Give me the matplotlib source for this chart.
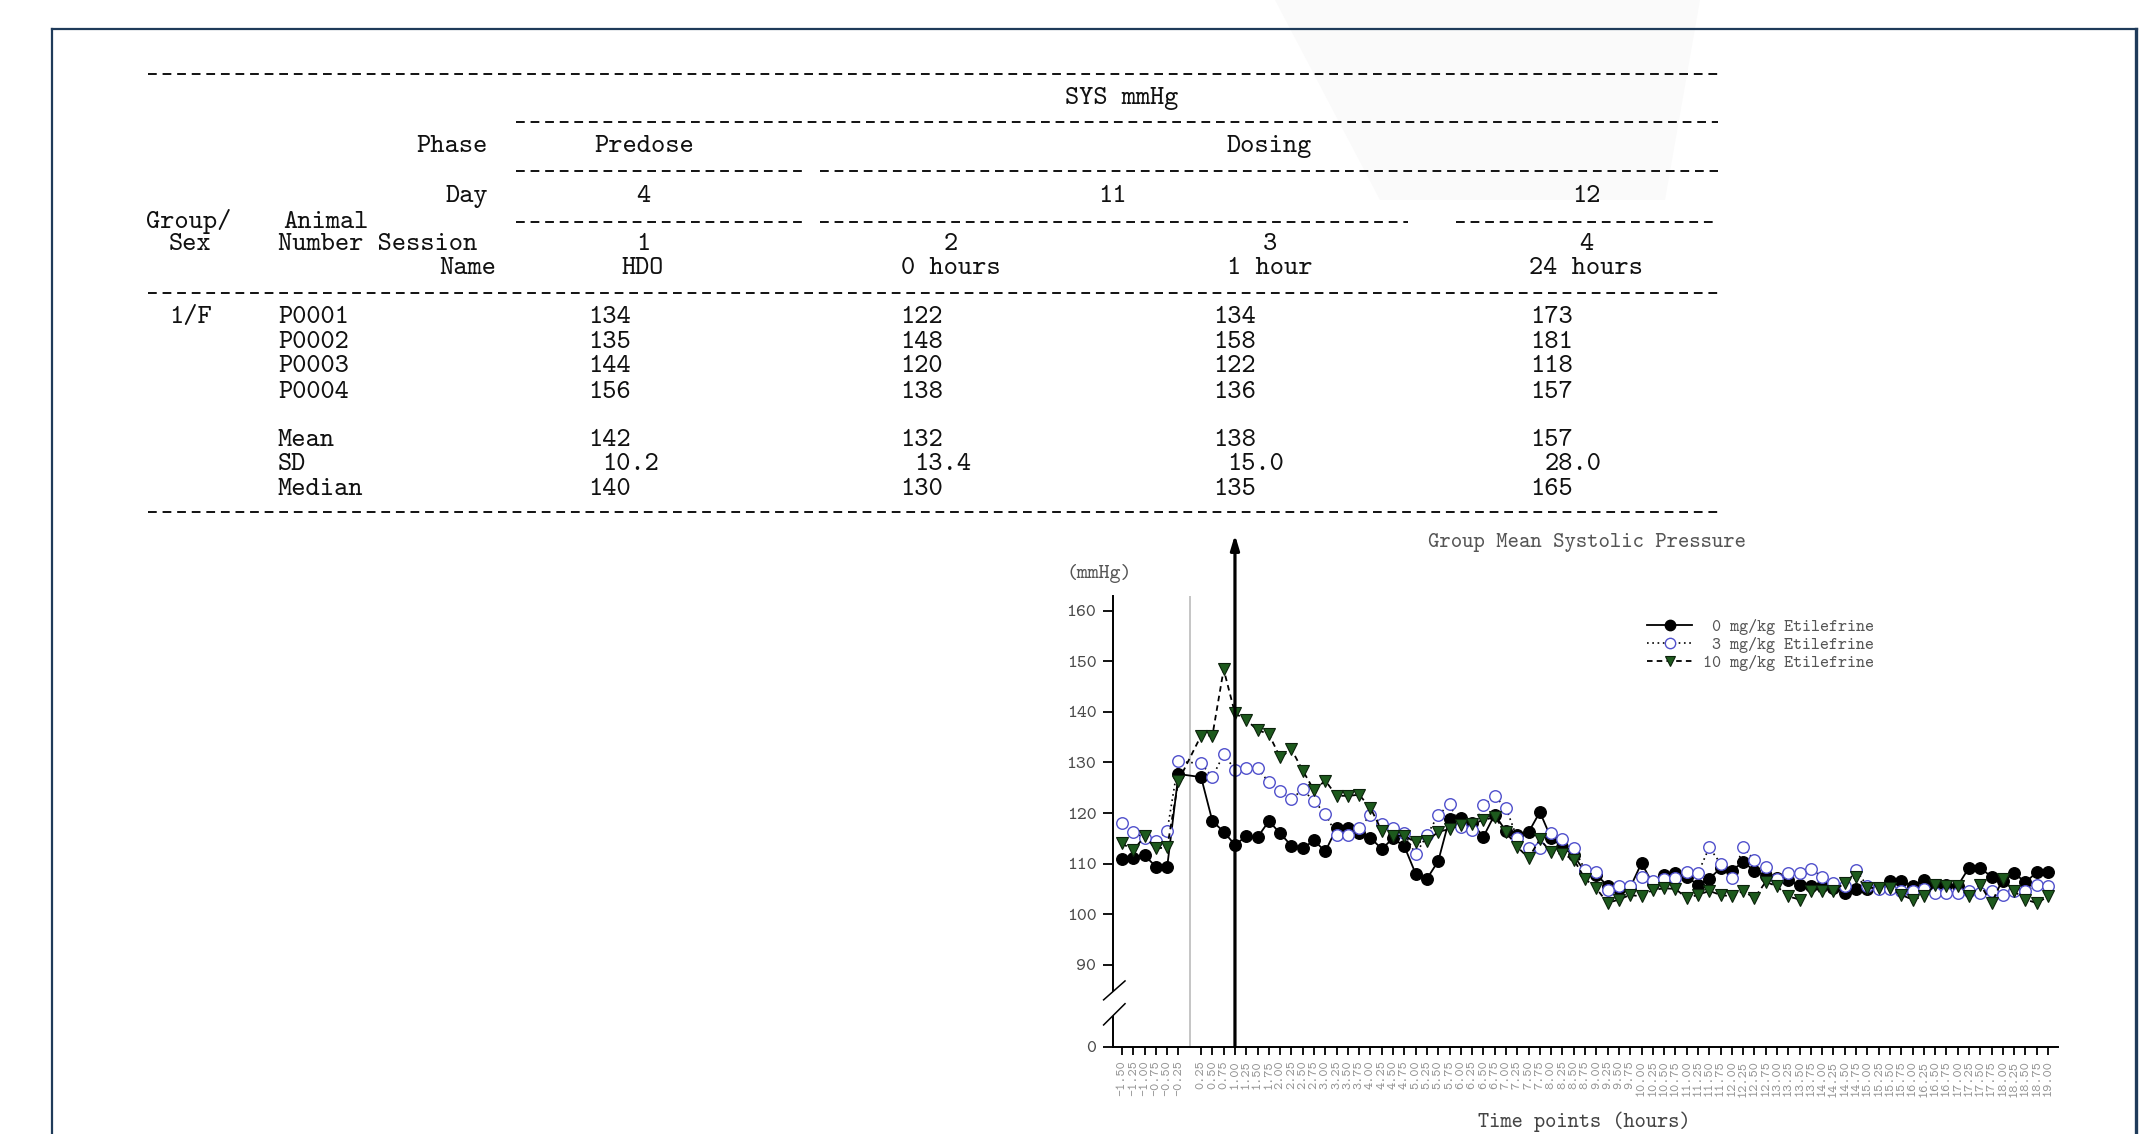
import matplotlib
matplotlib.use("Agg")
import matplotlib.pyplot as plt
from matplotlib.lines import Line2D
from matplotlib.patches import Polygon
from matplotlib.font_manager import FontProperties

plt.rcParams['lines.scale_dashes'] = False

W, H = 2144, 1134
DPI = 100
MONO = 'cmtt10'

# ---------------- table data ----------------
table_title = "SYS mmHg"
phase_labels = ["Predose", "Dosing"]
day_labels = ["4", "11", "12"]
session_numbers = ["1", "2", "3", "4"]
session_names = ["HDO", "0 hours", "1 hour", "24 hours"]
group_sex = "1/F"
animal_ids = ["P0001", "P0002", "P0003", "P0004"]
animal_values = [[134, 122, 134, 173],
                 [135, 148, 158, 181],
                 [144, 120, 122, 118],
                 [156, 138, 136, 157]]
mean_values = [142, 132, 138, 157]
sd_values = [10.2, 13.4, 15.0, 28.0]
median_values = [140, 130, 135, 165]

# ---------------- chart data ----------------
time_points = [-1.50, -1.25, -1.00, -0.75, -0.50, -0.25,
               0.25, 0.50, 0.75, 1.00, 1.25, 1.50, 1.75, 2.00, 2.25, 2.50, 2.75, 3.00, 3.25, 3.50, 3.75, 4.00,
               4.25, 4.50, 4.75, 5.00, 5.25, 5.50, 5.75, 6.00, 6.25, 6.50, 6.75, 7.00, 7.25, 7.50, 7.75, 8.00,
               8.25, 8.50, 8.75, 9.00, 9.25, 9.50, 9.75, 10.00, 10.25, 10.50, 10.75, 11.00, 11.25, 11.50, 11.75, 12.00,
               12.25, 12.50, 12.75, 13.00, 13.25, 13.50, 13.75, 14.00, 14.25, 14.50, 14.75, 15.00, 15.25, 15.50, 15.75, 16.00,
               16.25, 16.50, 16.75, 17.00, 17.25, 17.50, 17.75, 18.00, 18.25, 18.50, 18.75, 19.00]

sys_0mg = [111.0, 111.2, 111.6, 109.4, 109.4, 127.7,
           127.1, 118.4, 116.3, 113.7, 115.4, 115.2, 118.4, 116.0, 113.5, 113.0, 114.6, 112.4, 117.0, 117.0, 116.1, 115.1,
           112.9, 115.0, 113.4, 108.0, 107.0, 110.5, 118.9, 119.1, 118.0, 115.3, 119.7, 116.4, 115.6, 116.2, 120.2, 115.0,
           113.3, 111.6, 108.3, 107.8, 105.6, 105.0, 105.3, 110.1, 106.0, 107.8, 108.1, 107.4, 105.8, 107.0, 109.1, 108.5,
           110.4, 108.5, 107.6, 107.1, 106.7, 105.7, 105.5, 105.6, 105.2, 104.2, 104.9, 104.9, 105.2, 106.5, 106.5, 105.6,
           106.7, 105.8, 105.8, 105.6, 109.2, 109.1, 107.4, 106.5, 108.1, 106.3, 108.3, 108.3]

sys_3mg = [118.1, 116.3, 115.0, 114.5, 116.5, 130.2,
           129.8, 127.1, 131.6, 128.6, 128.8, 128.8, 126.1, 124.3, 122.7, 124.7, 122.3, 119.9, 115.6, 115.6, 117.0, 119.6,
           117.9, 117.0, 116.0, 111.8, 115.6, 119.6, 121.7, 117.2, 116.6, 121.5, 123.3, 121.0, 115.0, 113.0, 113.0, 116.0,
           114.9, 113.0, 108.8, 108.4, 104.7, 105.6, 105.5, 107.4, 106.5, 107.0, 107.1, 108.4, 108.1, 113.2, 110.0, 107.1,
           113.2, 110.7, 109.4, 107.0, 108.1, 108.1, 108.9, 107.4, 106.2, 105.5, 108.8, 105.5, 104.9, 104.9, 104.5, 104.5,
           105.0, 104.2, 104.2, 104.2, 104.5, 104.2, 104.5, 103.8, 104.5, 104.5, 105.8, 105.5]

sys_10mg = [114.0, 112.6, 115.4, 113.0, 113.2, 126.4,
            135.3, 135.3, 148.4, 139.7, 138.4, 136.4, 135.6, 131.0, 132.6, 128.4, 124.5, 126.4, 123.4, 123.4, 123.6, 121.0,
            116.5, 115.5, 115.5, 114.2, 114.4, 116.3, 116.8, 117.7, 117.9, 118.6, 119.2, 116.2, 113.3, 111.1, 114.8, 112.2,
            111.9, 110.8, 107.0, 105.1, 102.2, 102.9, 103.8, 103.5, 104.8, 105.1, 105.0, 103.2, 103.8, 104.6, 103.8, 103.5,
            104.6, 103.2, 106.4, 105.5, 103.5, 102.9, 104.5, 104.5, 104.5, 106.2, 107.4, 105.2, 105.2, 105.2, 103.8, 102.9,
            103.5, 105.8, 105.6, 105.6, 103.5, 105.8, 102.2, 107.0, 104.5, 102.9, 102.2, 103.5]

series_labels = [" 0 mg/kg Etilefrine", " 3 mg/kg Etilefrine", "10 mg/kg Etilefrine"]
chart_title = "Group Mean Systolic Pressure"
y_unit = "(mmHg)"
x_title = "Time points (hours)"
y_tick_values = [90, 100, 110, 120, 130, 140, 150, 160]
dosing_time = 1.0

# ---------------- figure ----------------
fig = plt.figure(figsize=(W / DPI, H / DPI), dpi=DPI)
fig.patch.set_facecolor('white')


def fx(x):
    return x / W


def fy(y):
    return 1 - y / H


# very faint background shape at top
fig.add_artist(Polygon([(fx(1275), fy(0)), (fx(1700), fy(0)), (fx(1665), fy(200)), (fx(1380), fy(200))],
                       closed=True, transform=fig.transFigure, facecolor='#fafafa', edgecolor='none', zorder=0))

# frame
frame_col = '#1f3b5a'
fig.add_artist(Line2D([fx(52), fx(2137)], [fy(29), fy(29)], transform=fig.transFigure, color=frame_col, lw=1.6))
fig.add_artist(Line2D([fx(52), fx(52)], [fy(29), fy(1134)], transform=fig.transFigure, color=frame_col, lw=1.6))
fig.add_artist(Line2D([fx(2136), fx(2136)], [fy(29), fy(1134)], transform=fig.transFigure, color=frame_col, lw=2.4))

# ---------------- table ----------------
TFS = 19.5
tcol = '#111111'


def ttext(x, y, s, ha='left'):
    fig.text(fx(x), fy(y), s, ha=ha, va='center', fontfamily=MONO, fontsize=TFS, color=tcol)


def rule(x0, x1, y):
    fig.add_artist(Line2D([fx(x0), fx(x1)], [fy(y), fy(y)], transform=fig.transFigure, color=tcol,
                          lw=1.4, linestyle=(0, (6.3, 4.2)), dash_capstyle='butt'))


rule(148, 1718, 74)
ttext(1122, 98, table_title, ha='center')
rule(516, 1718, 122)
ttext(488, 147, "Phase", ha='right')
ttext(644, 147, phase_labels[0], ha='center')
ttext(1269, 147, phase_labels[1], ha='center')
rule(516, 807, 171)
rule(820, 1718, 171)
ttext(488, 197, "Day", ha='right')
ttext(643, 197, day_labels[0], ha='center')
ttext(1112, 197, day_labels[1], ha='center')
ttext(1586, 197, day_labels[2], ha='center')
ttext(146, 222, "Group/")
ttext(283, 222, "Animal")
rule(516, 807, 222)
rule(820, 1408, 222)
rule(1456, 1718, 222)
ttext(169, 244, "Sex")
ttext(278, 244, "Number Session")
ttext(496, 269, "Name", ha='right')
session_centers = [643, 951, 1270, 1586]
for cx, num, name in zip(session_centers, session_numbers, session_names):
    ttext(cx, 244, num, ha='center')
    ttext(cx, 269, name, ha='center')
rule(148, 1718, 293)

value_left = [588, 900, 1213, 1530]
row_y = [317, 342, 367, 392]
ttext(169, row_y[0], group_sex)
for ry, aid, vals in zip(row_y, animal_ids, animal_values):
    ttext(278, ry, aid)
    for lx, v in zip(value_left, vals):
        ttext(lx, ry, f"{v}")
stat_y = [440, 465, 490]
ttext(278, stat_y[0], "Mean")
ttext(278, stat_y[1], "SD")
ttext(278, stat_y[2], "Median")
for lx, m, s, md in zip(value_left, mean_values, sd_values, median_values):
    ttext(lx, stat_y[0], f"{m}")
    ttext(lx + 14.6, stat_y[1], f"{s:.1f}")
    ttext(lx, stat_y[2], f"{md}")
rule(148, 1718, 512)

# ---------------- chart ----------------
ax = fig.add_axes([1113 / W, 1 - 1046.7 / H, (2058 - 1113) / W, (1046.7 - 596) / H])
Y_ZERO = 73.8
ax.set_xlim(-1.70, 19.22)
ax.set_ylim(Y_ZERO, 162.9)
ax.set_facecolor('none')

ax.axvline(0, color='#b5b5b5', lw=1.1, zorder=1)

l0, = ax.plot(time_points, sys_0mg, color='black', lw=1.3, linestyle='-',
              marker='o', ms=8.3, mfc='black', mec='black', zorder=3)
l3, = ax.plot(time_points, sys_3mg, color='black', lw=1.2, linestyle=(0, (1.2, 2.6)),
              marker='o', ms=8.3, mfc='white', mec='#5050cc', mew=1.0, zorder=4)
l10, = ax.plot(time_points, sys_10mg, color='black', lw=1.3, linestyle=(0, (4.0, 3.0)),
               marker='v', ms=8.6, mfc='#1d5a1d', mec='#0b220b', mew=0.8, zorder=5)

for side in ['top', 'right']:
    ax.spines[side].set_visible(False)
for side in ['left', 'bottom']:
    ax.spines[side].set_linewidth(1.4)
    ax.spines[side].set_color('black')

ax.set_yticks([Y_ZERO] + y_tick_values)
ax.set_yticklabels(["0"] + [str(v) for v in y_tick_values], fontfamily=MONO, fontsize=13.6, color='#4a4a4a')
ax.set_xticks(time_points)
ax.set_xticklabels([f"{t:.2f}" for t in time_points], rotation=90, fontfamily=MONO,
                   fontsize=9.8, color='#959595')
ax.tick_params(axis='y', length=7, width=1.3, pad=5, direction='out')
ax.tick_params(axis='x', length=6, width=1.3, pad=4, direction='out')

# axis break marks on the y axis
brk = Polygon([(-1.908, 83.06), (-1.434, 86.8), (-1.434, 82.3), (-1.908, 78.1)], closed=True,
              facecolor='white', edgecolor='none', zorder=6, clip_on=False)
ax.add_patch(brk)
ax.plot([-1.908, -1.434], [83.06, 86.8], color='black', lw=1.1, zorder=7, clip_on=False)
ax.plot([-1.908, -1.434], [78.1, 82.3], color='black', lw=1.1, zorder=7, clip_on=False)

# dosing arrow
ax.annotate('', xy=(dosing_time, 175.0), xytext=(dosing_time, Y_ZERO), xycoords='data',
            arrowprops=dict(arrowstyle='-|>,head_length=0.6,head_width=0.18', color='black', lw=2.3,
                            mutation_scale=14.4, shrinkA=0, shrinkB=0),
            annotation_clip=False, zorder=8)

fig.text(fx(1428), fy(543), chart_title, ha='left', va='center', fontfamily=MONO, fontsize=15.6, color='#555555')
fig.text(fx(1067), fy(573), y_unit, ha='left', va='center', fontfamily=MONO, fontsize=15.0, color='#555555')
fig.text(fx(1584), fy(1122), x_title, ha='center', va='center', fontfamily=MONO, fontsize=15.4, color='#444444')

leg = ax.legend([l0, l3, l10], series_labels, loc='upper left',
                bbox_to_anchor=(fx(1647), fy(619)), bbox_transform=fig.transFigure,
                frameon=False, borderpad=0, borderaxespad=0, handlelength=2.64, handletextpad=0.63,
                labelspacing=0.1, prop=FontProperties(family=MONO, size=12.4), numpoints=1,
                markerscale=0.9)
for t in leg.get_texts():
    t.set_color('#555555')

fig.savefig('out.png', dpi=DPI, facecolor='white')
